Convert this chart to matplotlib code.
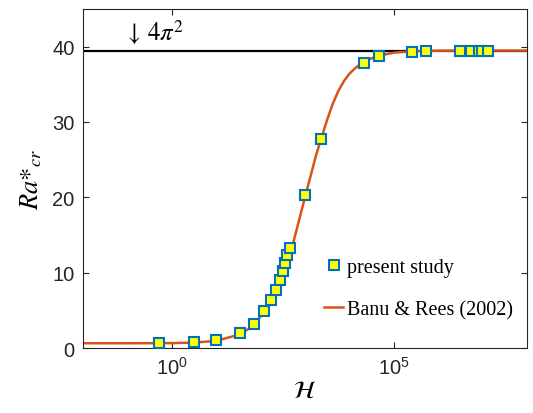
import numpy as np
import matplotlib
matplotlib.use("Agg")
import matplotlib.pyplot as plt
from matplotlib.ticker import FixedLocator, NullLocator

# present study (H, Ra*_cr)
study_H = [0.51, 3.1, 10, 35, 71, 117, 174, 224, 269, 316, 355, 398, 457,
           1023, 2290, 20900, 45700, 263000, 525000,
           3.1e6, 5.4e6, 8.3e6, 9.8e6, 1.35e7]
study_Ra = [0.62, 0.75, 1.05, 1.95, 3.2, 4.9, 6.4, 7.7, 9.07, 10.2, 11.3, 12.3, 13.3,
            20.3, 27.7, 37.8, 38.7, 39.3, 39.4,
            39.45, 39.45, 39.45, 39.45, 39.45]

# Banu & Rees (2002) curve (log10 H, Ra*_cr)
banu_logH = [-2, -1, 0, 0.5, 1.0, 1.5, 1.75, 2.0, 2.25, 2.5, 2.75, 3.0, 3.25,
             3.5, 3.625, 3.75, 3.875, 4.0, 4.125, 4.25, 4.5, 4.75, 5.0, 5.5, 6.0, 7.0, 8.0]
banu_Ra = [0.63, 0.63, 0.65, 0.72, 0.95, 1.75, 2.6, 4.2, 6.4, 9.8, 14.3, 20.0, 25.6,
           30.3, 32.4, 34.1, 35.4, 36.4, 37.1, 37.7, 38.45, 38.9, 39.2, 39.4, 39.46, 39.48, 39.48]

limit_value = 4 * np.pi ** 2
xticks = [1e0, 1e5]
yticks = [0, 10, 20, 30, 40]

plt.rcParams['mathtext.fontset'] = 'stix'
fig = plt.figure(figsize=(5.33, 4.14), dpi=100)
ax = fig.add_axes([0.1557, 0.157, 0.833, 0.819])

ax.axhline(limit_value, color='black', lw=1.6, zorder=1)
ax.plot(10 ** np.array(banu_logH), banu_Ra, color='#D95319', lw=1.8,
        label='Banu & Rees (2002)', zorder=2)
ax.plot(study_H, study_Ra, linestyle='none', marker='s', markersize=7,
        markerfacecolor='#FFFF00', markeredgecolor='#0072BD', markeredgewidth=1.5,
        label='present study', zorder=3)

ax.set_xscale('log')
ax.set_xlim(1e-2, 1e8)
ax.set_ylim(0, 45)
ax.xaxis.set_major_locator(FixedLocator(xticks))
ax.xaxis.set_minor_locator(NullLocator())
ax.set_yticks(yticks)
ax.set_xticklabels([r'$\mathregular{10^{0}}$', r'$\mathregular{10^{5}}$'])

ax.tick_params(direction='in', top=True, right=True, length=4, width=0.8,
               labelsize=14.5, colors='#262626', pad=6)
for lab in ax.get_xticklabels() + ax.get_yticklabels():
    lab.set_family('Liberation Sans')
for s in ax.spines.values():
    s.set_color('#262626')
    s.set_linewidth(0.8)

ax.text(0.085, 40.1, r'$\downarrow\,4\pi^2$', fontsize=18, ha='left', va='bottom')

ax.set_xlabel(r'$\mathcal{H}$', fontsize=18, labelpad=0)
ax.set_ylabel(r'$Ra\mathrm{*}_{cr}$', fontsize=19, labelpad=6)

handles, labels = ax.get_legend_handles_labels()
leg = ax.legend(handles[::-1], labels[::-1], loc='center left',
                bbox_to_anchor=(0.503, 0.176), frameon=False,
                prop={'family': 'Liberation Serif', 'size': 14.5},
                handlelength=0.9, handletextpad=0.2, labelspacing=1.15)

fig.savefig('out.png', dpi=100)
